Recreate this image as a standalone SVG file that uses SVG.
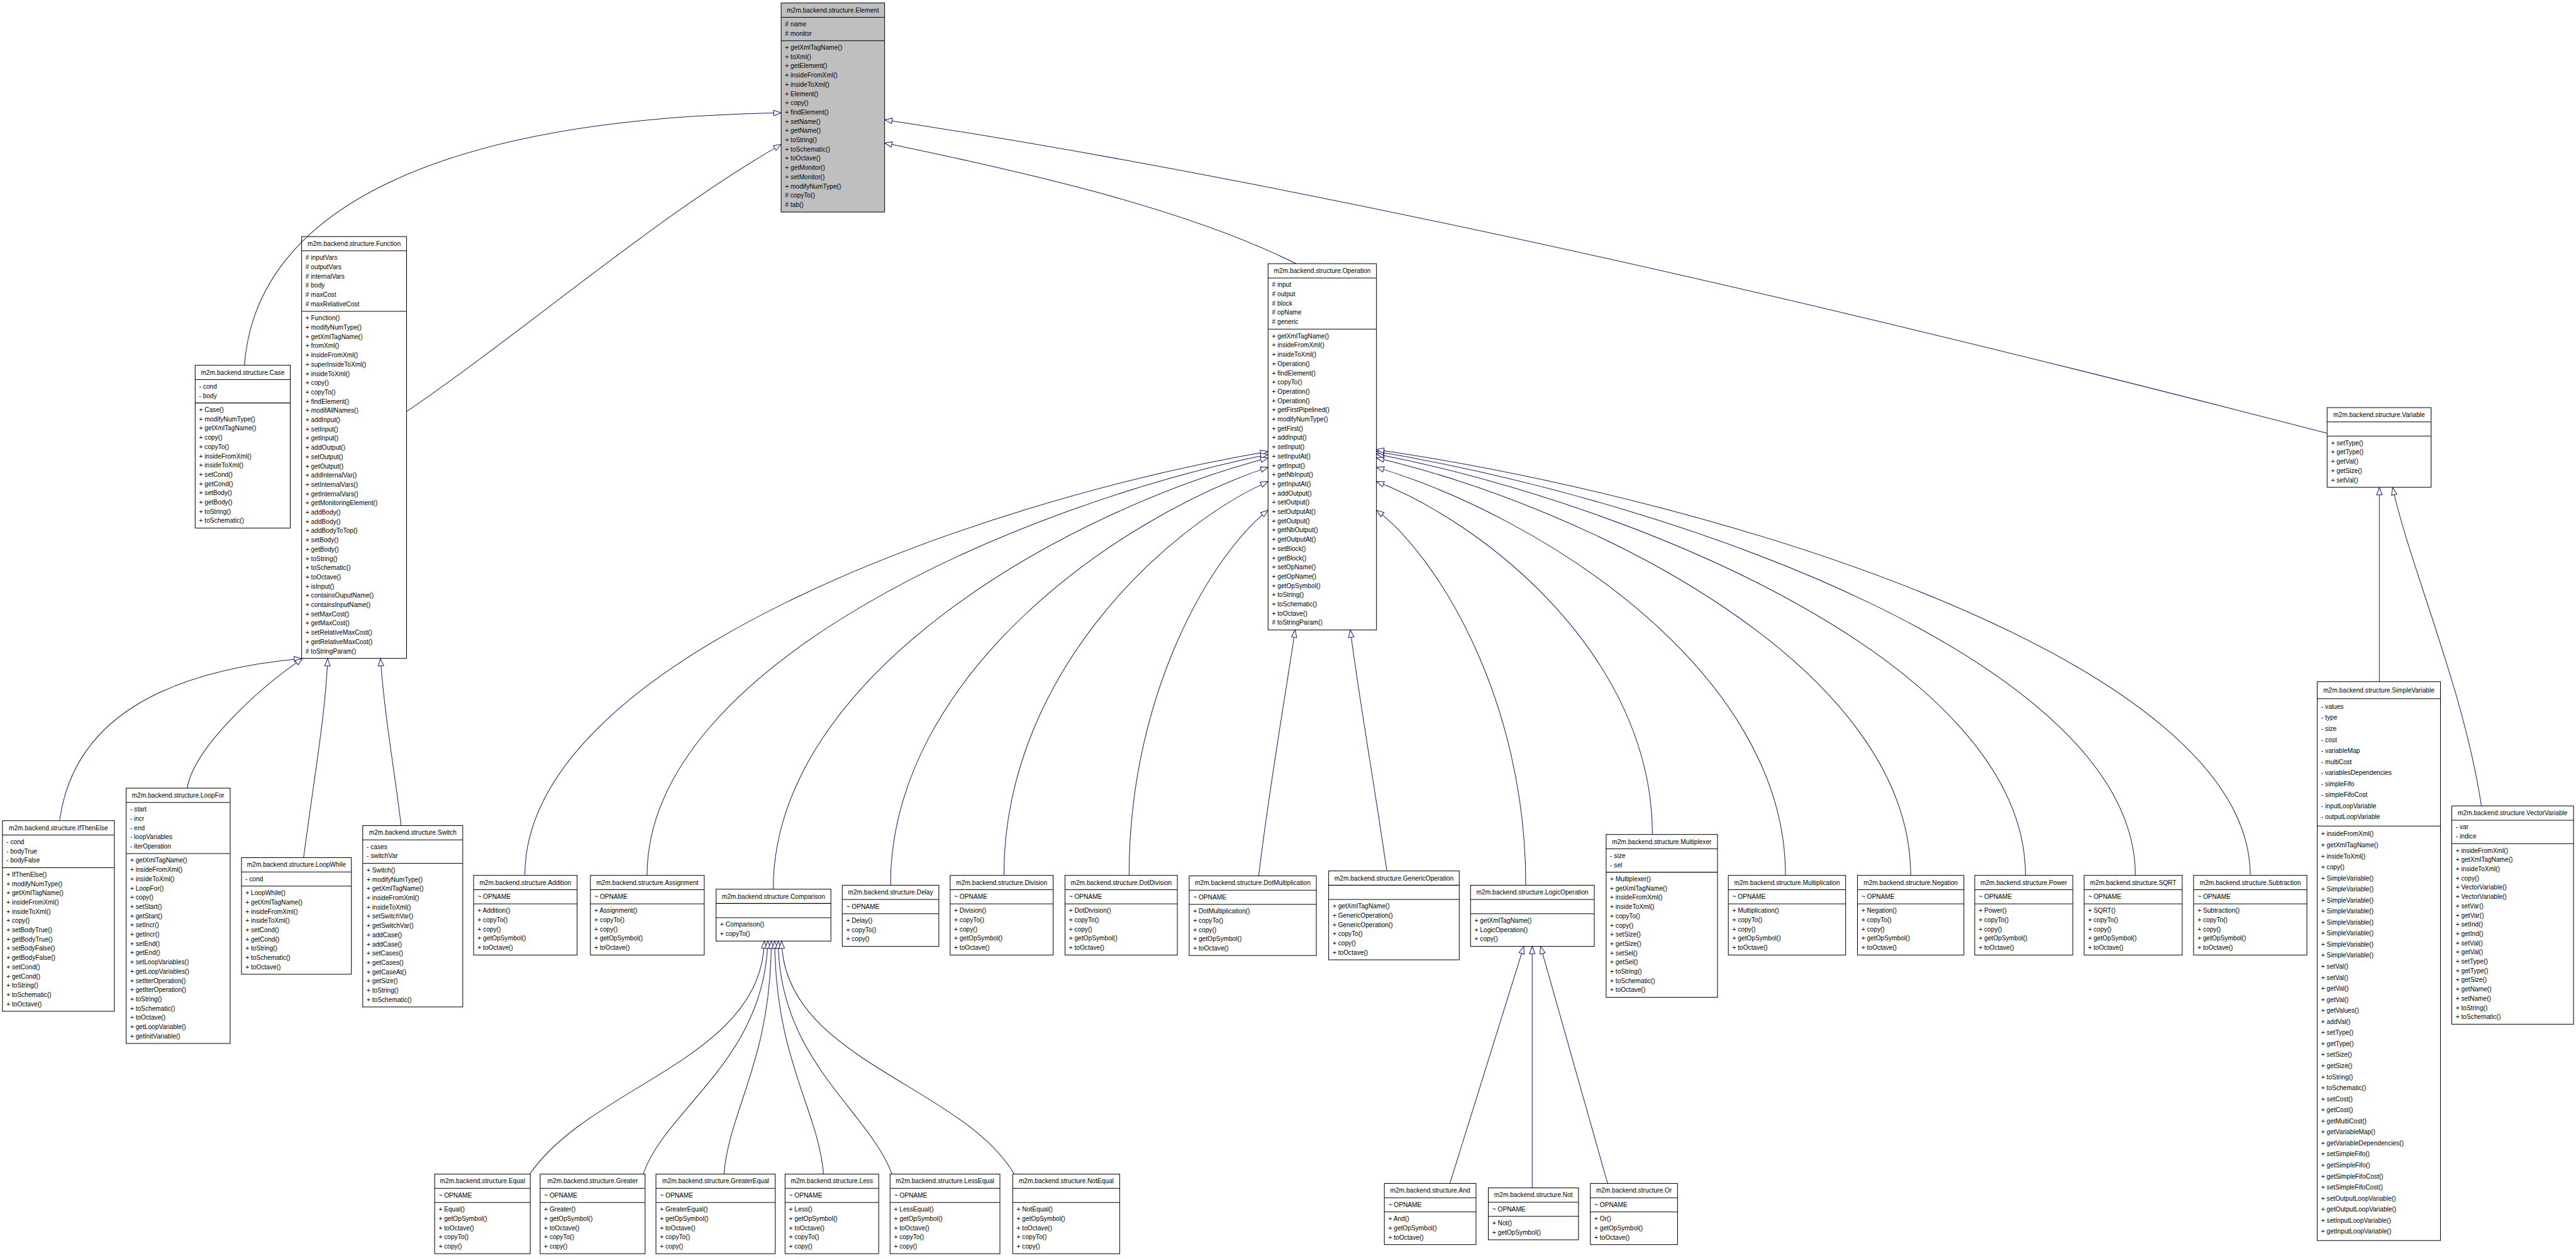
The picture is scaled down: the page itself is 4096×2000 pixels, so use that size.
<svg xmlns="http://www.w3.org/2000/svg" width="4096" height="2000" viewBox="0 0 4096 2000">
<style>
.box{fill:#fff;stroke:#000;stroke-width:1.3}
.gray{fill:#bfbfbf}
.sep{fill:none;stroke:#000;stroke-width:1.3}
text{font-family:"Liberation Sans",Arial,Helvetica,sans-serif;font-size:13px;fill:#000}
.t{text-anchor:middle}
.edge path{fill:none;stroke:#191970;stroke-width:1.3;marker-end:url(#inh)}
</style>
<defs>
<marker id="inh" viewBox="-17 -8 19 16" refX="0" refY="0" markerWidth="19" markerHeight="16" markerUnits="userSpaceOnUse" orient="auto">
<path d="M0,0 L-15,-5.5 L-15,5.5 Z" fill="#fff" stroke="#191970" stroke-width="1.3"/>
</marker>
</defs>
<rect width="4096" height="2000" fill="#fff"/>
<g transform="scale(0.78362)">

<g id="Element"><rect class="box gray" x="1585" y="6" width="210" height="424.2"/><path class="sep" d="M1585,35h210M1585,82.52h210"/><text class="t" x="1690" y="25">m2m.backend.structure.Element</text>
<text x="1593" y="53.4"><tspan># name</tspan><tspan x="1593" dy="18.76"># monitor</tspan></text>
<text x="1593" y="100.92"><tspan>+ getXmlTagName()</tspan><tspan x="1593" dy="18.76">+ toXml()</tspan><tspan x="1593" dy="18.76">+ getElement()</tspan><tspan x="1593" dy="18.76">+ insideFromXml()</tspan><tspan x="1593" dy="18.76">+ insideToXml()</tspan><tspan x="1593" dy="18.76">+ Element()</tspan><tspan x="1593" dy="18.76">+ copy()</tspan><tspan x="1593" dy="18.76">+ findElement()</tspan><tspan x="1593" dy="18.76">+ setName()</tspan><tspan x="1593" dy="18.76">+ getName()</tspan><tspan x="1593" dy="18.76">+ toString()</tspan><tspan x="1593" dy="18.76">+ toSchematic()</tspan><tspan x="1593" dy="18.76">+ toOctave()</tspan><tspan x="1593" dy="18.76">+ getMonitor()</tspan><tspan x="1593" dy="18.76">+ setMonitor()</tspan><tspan x="1593" dy="18.76">+ modifyNumType()</tspan><tspan x="1593" dy="18.76"># copyTo()</tspan><tspan x="1593" dy="18.76"># tab()</tspan></text></g>

<g id="Function"><rect class="box" x="612" y="480" width="213" height="855.68"/><path class="sep" d="M612,509h213M612,631.56h213"/><text class="t" x="718.5" y="499">m2m.backend.structure.Function</text>
<text x="620" y="527.4"><tspan># inputVars</tspan><tspan x="620" dy="18.76"># outputVars</tspan><tspan x="620" dy="18.76"># internalVars</tspan><tspan x="620" dy="18.76"># body</tspan><tspan x="620" dy="18.76"># maxCost</tspan><tspan x="620" dy="18.76"># maxRelativeCost</tspan></text>
<text x="620" y="649.96"><tspan>+ Function()</tspan><tspan x="620" dy="18.76">+ modifyNumType()</tspan><tspan x="620" dy="18.76">+ getXmlTagName()</tspan><tspan x="620" dy="18.76">+ fromXml()</tspan><tspan x="620" dy="18.76">+ insideFromXml()</tspan><tspan x="620" dy="18.76">+ superInsideToXml()</tspan><tspan x="620" dy="18.76">+ insideToXml()</tspan><tspan x="620" dy="18.76">+ copy()</tspan><tspan x="620" dy="18.76">+ copyTo()</tspan><tspan x="620" dy="18.76">+ findElement()</tspan><tspan x="620" dy="18.76">+ modifAllNames()</tspan><tspan x="620" dy="18.76">+ addInput()</tspan><tspan x="620" dy="18.76">+ setInput()</tspan><tspan x="620" dy="18.76">+ getInput()</tspan><tspan x="620" dy="18.76">+ addOutput()</tspan><tspan x="620" dy="18.76">+ setOutput()</tspan><tspan x="620" dy="18.76">+ getOutput()</tspan><tspan x="620" dy="18.76">+ addInternalVar()</tspan><tspan x="620" dy="18.76">+ setInternalVars()</tspan><tspan x="620" dy="18.76">+ getInternalVars()</tspan><tspan x="620" dy="18.76">+ getMonitoringElement()</tspan><tspan x="620" dy="18.76">+ addBody()</tspan><tspan x="620" dy="18.76">+ addBody()</tspan><tspan x="620" dy="18.76">+ addBodyToTop()</tspan><tspan x="620" dy="18.76">+ setBody()</tspan><tspan x="620" dy="18.76">+ getBody()</tspan><tspan x="620" dy="18.76">+ toString()</tspan><tspan x="620" dy="18.76">+ toSchematic()</tspan><tspan x="620" dy="18.76">+ toOctave()</tspan><tspan x="620" dy="18.76">+ isInput()</tspan><tspan x="620" dy="18.76">+ containsOuputName()</tspan><tspan x="620" dy="18.76">+ containsInputName()</tspan><tspan x="620" dy="18.76">+ setMaxCost()</tspan><tspan x="620" dy="18.76">+ getMaxCost()</tspan><tspan x="620" dy="18.76">+ setRelativeMaxCost()</tspan><tspan x="620" dy="18.76">+ getRelativeMaxCost()</tspan><tspan x="620" dy="18.76"># toStringParam()</tspan></text></g>

<g id="Case"><rect class="box" x="396" y="741" width="193" height="330.4"/><path class="sep" d="M396,770h193M396,817.52h193"/><text class="t" x="492.5" y="760">m2m.backend.structure.Case</text>
<text x="404" y="788.4"><tspan>- cond</tspan><tspan x="404" dy="18.76">- body</tspan></text>
<text x="404" y="835.92"><tspan>+ Case()</tspan><tspan x="404" dy="18.76">+ modifyNumType()</tspan><tspan x="404" dy="18.76">+ getXmlTagName()</tspan><tspan x="404" dy="18.76">+ copy()</tspan><tspan x="404" dy="18.76">+ copyTo()</tspan><tspan x="404" dy="18.76">+ insideFromXml()</tspan><tspan x="404" dy="18.76">+ insideToXml()</tspan><tspan x="404" dy="18.76">+ setCond()</tspan><tspan x="404" dy="18.76">+ getCond()</tspan><tspan x="404" dy="18.76">+ setBody()</tspan><tspan x="404" dy="18.76">+ getBody()</tspan><tspan x="404" dy="18.76">+ toString()</tspan><tspan x="404" dy="18.76">+ toSchematic()</tspan></text></g>

<g id="Operation"><rect class="box" x="2573" y="535" width="220" height="743.12"/><path class="sep" d="M2573,564h220M2573,667.8h220"/><text class="t" x="2683" y="554">m2m.backend.structure.Operation</text>
<text x="2581" y="582.4"><tspan># input</tspan><tspan x="2581" dy="18.76"># output</tspan><tspan x="2581" dy="18.76"># block</tspan><tspan x="2581" dy="18.76"># opName</tspan><tspan x="2581" dy="18.76"># generic</tspan></text>
<text x="2581" y="686.2"><tspan>+ getXmlTagName()</tspan><tspan x="2581" dy="18.76">+ insideFromXml()</tspan><tspan x="2581" dy="18.76">+ insideToXml()</tspan><tspan x="2581" dy="18.76">+ Operation()</tspan><tspan x="2581" dy="18.76">+ findElement()</tspan><tspan x="2581" dy="18.76">+ copyTo()</tspan><tspan x="2581" dy="18.76">+ Operation()</tspan><tspan x="2581" dy="18.76">+ Operation()</tspan><tspan x="2581" dy="18.76">+ getFirstPipelined()</tspan><tspan x="2581" dy="18.76">+ modifyNumType()</tspan><tspan x="2581" dy="18.76">+ getFirst()</tspan><tspan x="2581" dy="18.76">+ addInput()</tspan><tspan x="2581" dy="18.76">+ setInput()</tspan><tspan x="2581" dy="18.76">+ setInputAt()</tspan><tspan x="2581" dy="18.76">+ getInput()</tspan><tspan x="2581" dy="18.76">+ getNbInput()</tspan><tspan x="2581" dy="18.76">+ getInputAt()</tspan><tspan x="2581" dy="18.76">+ addOutput()</tspan><tspan x="2581" dy="18.76">+ setOutput()</tspan><tspan x="2581" dy="18.76">+ setOutputAt()</tspan><tspan x="2581" dy="18.76">+ getOutput()</tspan><tspan x="2581" dy="18.76">+ getNbOutput()</tspan><tspan x="2581" dy="18.76">+ getOutputAt()</tspan><tspan x="2581" dy="18.76">+ setBlock()</tspan><tspan x="2581" dy="18.76">+ getBlock()</tspan><tspan x="2581" dy="18.76">+ setOpName()</tspan><tspan x="2581" dy="18.76">+ getOpName()</tspan><tspan x="2581" dy="18.76">+ getOpSymbol()</tspan><tspan x="2581" dy="18.76">+ toString()</tspan><tspan x="2581" dy="18.76">+ toSchematic()</tspan><tspan x="2581" dy="18.76">+ toOctave()</tspan><tspan x="2581" dy="18.76"># toStringParam()</tspan></text></g>

<g id="Variable"><rect class="box" x="4722" y="827" width="211" height="161.56"/><path class="sep" d="M4722,856h211M4722,884.76h211"/><text class="t" x="4827.5" y="846">m2m.backend.structure.Variable</text>
<text x="4730" y="903.16"><tspan>+ setType()</tspan><tspan x="4730" dy="18.76">+ getType()</tspan><tspan x="4730" dy="18.76">+ getVal()</tspan><tspan x="4730" dy="18.76">+ getSize()</tspan><tspan x="4730" dy="18.76">+ setVal()</tspan></text></g>

<g id="SimpleVariable"><rect class="box" x="4702" y="1383" width="250" height="1133.8"/><path class="sep" d="M4702,1417.6h250M4702,1676h250"/><text class="t" x="4827" y="1405">m2m.backend.structure.SimpleVariable</text>
<text x="4710" y="1438.1"><tspan>- values</tspan><tspan x="4710" dy="22.4">- type</tspan><tspan x="4710" dy="22.4">- size</tspan><tspan x="4710" dy="22.4">- cost</tspan><tspan x="4710" dy="22.4">- variableMap</tspan><tspan x="4710" dy="22.4">- multiCost</tspan><tspan x="4710" dy="22.4">- variablesDependencies</tspan><tspan x="4710" dy="22.4">- simpleFifo</tspan><tspan x="4710" dy="22.4">- simpleFifoCost</tspan><tspan x="4710" dy="22.4">- inputLoopVariable</tspan><tspan x="4710" dy="22.4">- outputLoopVariable</tspan></text>
<text x="4710" y="1696.5"><tspan>+ insideFromXml()</tspan><tspan x="4710" dy="22.4">+ getXmlTagName()</tspan><tspan x="4710" dy="22.4">+ insideToXml()</tspan><tspan x="4710" dy="22.4">+ copy()</tspan><tspan x="4710" dy="22.4">+ SimpleVariable()</tspan><tspan x="4710" dy="22.4">+ SimpleVariable()</tspan><tspan x="4710" dy="22.4">+ SimpleVariable()</tspan><tspan x="4710" dy="22.4">+ SimpleVariable()</tspan><tspan x="4710" dy="22.4">+ SimpleVariable()</tspan><tspan x="4710" dy="22.4">+ SimpleVariable()</tspan><tspan x="4710" dy="22.4">+ SimpleVariable()</tspan><tspan x="4710" dy="22.4">+ SimpleVariable()</tspan><tspan x="4710" dy="22.4">+ setVal()</tspan><tspan x="4710" dy="22.4">+ setVal()</tspan><tspan x="4710" dy="22.4">+ getVal()</tspan><tspan x="4710" dy="22.4">+ getVal()</tspan><tspan x="4710" dy="22.4">+ getValues()</tspan><tspan x="4710" dy="22.4">+ addVal()</tspan><tspan x="4710" dy="22.4">+ setType()</tspan><tspan x="4710" dy="22.4">+ getType()</tspan><tspan x="4710" dy="22.4">+ setSize()</tspan><tspan x="4710" dy="22.4">+ getSize()</tspan><tspan x="4710" dy="22.4">+ toString()</tspan><tspan x="4710" dy="22.4">+ toSchematic()</tspan><tspan x="4710" dy="22.4">+ setCost()</tspan><tspan x="4710" dy="22.4">+ getCost()</tspan><tspan x="4710" dy="22.4">+ getMultiCost()</tspan><tspan x="4710" dy="22.4">+ getVariableMap()</tspan><tspan x="4710" dy="22.4">+ getVariableDependencies()</tspan><tspan x="4710" dy="22.4">+ setSimpleFifo()</tspan><tspan x="4710" dy="22.4">+ getSimpleFifo()</tspan><tspan x="4710" dy="22.4">+ getSimpleFifoCost()</tspan><tspan x="4710" dy="22.4">+ setSimpleFifoCost()</tspan><tspan x="4710" dy="22.4">+ setOutputLoopVariable()</tspan><tspan x="4710" dy="22.4">+ getOutputLoopVariable()</tspan><tspan x="4710" dy="22.4">+ setInputLoopVariable()</tspan><tspan x="4710" dy="22.4">+ getInputLoopVariable()</tspan></text></g>

<g id="VectorVariable"><rect class="box" x="4975" y="1635" width="247" height="442.96"/><path class="sep" d="M4975,1664h247M4975,1711.52h247"/><text class="t" x="5098.5" y="1654">m2m.backend.structure.VectorVariable</text>
<text x="4983" y="1682.4"><tspan>- var</tspan><tspan x="4983" dy="18.76">- indice</tspan></text>
<text x="4983" y="1729.92"><tspan>+ insideFromXml()</tspan><tspan x="4983" dy="18.76">+ getXmlTagName()</tspan><tspan x="4983" dy="18.76">+ insideToXml()</tspan><tspan x="4983" dy="18.76">+ copy()</tspan><tspan x="4983" dy="18.76">+ VectorVariable()</tspan><tspan x="4983" dy="18.76">+ VectorVariable()</tspan><tspan x="4983" dy="18.76">+ setVar()</tspan><tspan x="4983" dy="18.76">+ getVar()</tspan><tspan x="4983" dy="18.76">+ setInd()</tspan><tspan x="4983" dy="18.76">+ getInd()</tspan><tspan x="4983" dy="18.76">+ setVal()</tspan><tspan x="4983" dy="18.76">+ getVal()</tspan><tspan x="4983" dy="18.76">+ setType()</tspan><tspan x="4983" dy="18.76">+ getType()</tspan><tspan x="4983" dy="18.76">+ getSize()</tspan><tspan x="4983" dy="18.76">+ getName()</tspan><tspan x="4983" dy="18.76">+ setName()</tspan><tspan x="4983" dy="18.76">+ toString()</tspan><tspan x="4983" dy="18.76">+ toSchematic()</tspan></text></g>

<g id="IfThenElse"><rect class="box" x="5" y="1665" width="227" height="386.68"/><path class="sep" d="M5,1694h227M5,1760.28h227"/><text class="t" x="118.5" y="1684">m2m.backend.structure.IfThenElse</text>
<text x="13" y="1712.4"><tspan>- cond</tspan><tspan x="13" dy="18.76">- bodyTrue</tspan><tspan x="13" dy="18.76">- bodyFalse</tspan></text>
<text x="13" y="1778.68"><tspan>+ IfThenElse()</tspan><tspan x="13" dy="18.76">+ modifyNumType()</tspan><tspan x="13" dy="18.76">+ getXmlTagName()</tspan><tspan x="13" dy="18.76">+ insideFromXml()</tspan><tspan x="13" dy="18.76">+ insideToXml()</tspan><tspan x="13" dy="18.76">+ copy()</tspan><tspan x="13" dy="18.76">+ setBodyTrue()</tspan><tspan x="13" dy="18.76">+ getBodyTrue()</tspan><tspan x="13" dy="18.76">+ setBodyFalse()</tspan><tspan x="13" dy="18.76">+ getBodyFalse()</tspan><tspan x="13" dy="18.76">+ setCond()</tspan><tspan x="13" dy="18.76">+ getCond()</tspan><tspan x="13" dy="18.76">+ toString()</tspan><tspan x="13" dy="18.76">+ toSchematic()</tspan><tspan x="13" dy="18.76">+ toOctave()</tspan></text></g>

<g id="LoopFor"><rect class="box" x="256" y="1599" width="211" height="518"/><path class="sep" d="M256,1628h211M256,1731.8h211"/><text class="t" x="361.5" y="1618">m2m.backend.structure.LoopFor</text>
<text x="264" y="1646.4"><tspan>- start</tspan><tspan x="264" dy="18.76">- incr</tspan><tspan x="264" dy="18.76">- end</tspan><tspan x="264" dy="18.76">- loopVariables</tspan><tspan x="264" dy="18.76">- iterOperation</tspan></text>
<text x="264" y="1750.2"><tspan>+ getXmlTagName()</tspan><tspan x="264" dy="18.76">+ insideFromXml()</tspan><tspan x="264" dy="18.76">+ insideToXml()</tspan><tspan x="264" dy="18.76">+ LoopFor()</tspan><tspan x="264" dy="18.76">+ copy()</tspan><tspan x="264" dy="18.76">+ setStart()</tspan><tspan x="264" dy="18.76">+ getStart()</tspan><tspan x="264" dy="18.76">+ setIncr()</tspan><tspan x="264" dy="18.76">+ getIncr()</tspan><tspan x="264" dy="18.76">+ setEnd()</tspan><tspan x="264" dy="18.76">+ getEnd()</tspan><tspan x="264" dy="18.76">+ setLoopVariables()</tspan><tspan x="264" dy="18.76">+ getLoopVariables()</tspan><tspan x="264" dy="18.76">+ setIterOperation()</tspan><tspan x="264" dy="18.76">+ getIterOperation()</tspan><tspan x="264" dy="18.76">+ toString()</tspan><tspan x="264" dy="18.76">+ toSchematic()</tspan><tspan x="264" dy="18.76">+ toOctave()</tspan><tspan x="264" dy="18.76">+ getLoopVariable()</tspan><tspan x="264" dy="18.76">+ getInitVariable()</tspan></text></g>

<g id="LoopWhile"><rect class="box" x="490" y="1740" width="223" height="236.6"/><path class="sep" d="M490,1769h223M490,1797.76h223"/><text class="t" x="601.5" y="1759">m2m.backend.structure.LoopWhile</text>
<text x="498" y="1787.4">- cond</text>
<text x="498" y="1816.16"><tspan>+ LoopWhile()</tspan><tspan x="498" dy="18.76">+ getXmlTagName()</tspan><tspan x="498" dy="18.76">+ insideFromXml()</tspan><tspan x="498" dy="18.76">+ insideToXml()</tspan><tspan x="498" dy="18.76">+ setCond()</tspan><tspan x="498" dy="18.76">+ getCond()</tspan><tspan x="498" dy="18.76">+ toString()</tspan><tspan x="498" dy="18.76">+ toSchematic()</tspan><tspan x="498" dy="18.76">+ toOctave()</tspan></text></g>

<g id="Switch"><rect class="box" x="736" y="1675" width="203" height="367.92"/><path class="sep" d="M736,1704h203M736,1751.52h203"/><text class="t" x="837.5" y="1694">m2m.backend.structure.Switch</text>
<text x="744" y="1722.4"><tspan>- cases</tspan><tspan x="744" dy="18.76">- switchVar</tspan></text>
<text x="744" y="1769.92"><tspan>+ Switch()</tspan><tspan x="744" dy="18.76">+ modifyNumType()</tspan><tspan x="744" dy="18.76">+ getXmlTagName()</tspan><tspan x="744" dy="18.76">+ insideFromXml()</tspan><tspan x="744" dy="18.76">+ insideToXml()</tspan><tspan x="744" dy="18.76">+ setSwitchVar()</tspan><tspan x="744" dy="18.76">+ getSwitchVar()</tspan><tspan x="744" dy="18.76">+ addCase()</tspan><tspan x="744" dy="18.76">+ addCase()</tspan><tspan x="744" dy="18.76">+ setCases()</tspan><tspan x="744" dy="18.76">+ getCases()</tspan><tspan x="744" dy="18.76">+ getCaseAt()</tspan><tspan x="744" dy="18.76">+ getSize()</tspan><tspan x="744" dy="18.76">+ toString()</tspan><tspan x="744" dy="18.76">+ toSchematic()</tspan></text></g>

<g id="Addition"><rect class="box" x="961" y="1776" width="210" height="161.56"/><path class="sep" d="M961,1805h210M961,1833.76h210"/><text class="t" x="1066" y="1795">m2m.backend.structure.Addition</text>
<text x="969" y="1823.4">~ OPNAME</text>
<text x="969" y="1852.16"><tspan>+ Addition()</tspan><tspan x="969" dy="18.76">+ copyTo()</tspan><tspan x="969" dy="18.76">+ copy()</tspan><tspan x="969" dy="18.76">+ getOpSymbol()</tspan><tspan x="969" dy="18.76">+ toOctave()</tspan></text></g>

<g id="Assignment"><rect class="box" x="1198" y="1776" width="231" height="161.56"/><path class="sep" d="M1198,1805h231M1198,1833.76h231"/><text class="t" x="1313.5" y="1795">m2m.backend.structure.Assignment</text>
<text x="1206" y="1823.4">~ OPNAME</text>
<text x="1206" y="1852.16"><tspan>+ Assignment()</tspan><tspan x="1206" dy="18.76">+ copyTo()</tspan><tspan x="1206" dy="18.76">+ copy()</tspan><tspan x="1206" dy="18.76">+ getOpSymbol()</tspan><tspan x="1206" dy="18.76">+ toOctave()</tspan></text></g>

<g id="Comparison"><rect class="box" x="1453" y="1804" width="233" height="105.28"/><path class="sep" d="M1453,1833h233M1453,1861.76h233"/><text class="t" x="1569.5" y="1823">m2m.backend.structure.Comparison</text>
<text x="1461" y="1880.16"><tspan>+ Comparison()</tspan><tspan x="1461" dy="18.76">+ copyTo()</tspan></text></g>

<g id="Delay"><rect class="box" x="1709" y="1796" width="196" height="124.04"/><path class="sep" d="M1709,1825h196M1709,1853.76h196"/><text class="t" x="1807" y="1815">m2m.backend.structure.Delay</text>
<text x="1717" y="1843.4">~ OPNAME</text>
<text x="1717" y="1872.16"><tspan>+ Delay()</tspan><tspan x="1717" dy="18.76">+ copyTo()</tspan><tspan x="1717" dy="18.76">+ copy()</tspan></text></g>

<g id="Division"><rect class="box" x="1928" y="1776" width="209" height="161.56"/><path class="sep" d="M1928,1805h209M1928,1833.76h209"/><text class="t" x="2032.5" y="1795">m2m.backend.structure.Division</text>
<text x="1936" y="1823.4">~ OPNAME</text>
<text x="1936" y="1852.16"><tspan>+ Division()</tspan><tspan x="1936" dy="18.76">+ copyTo()</tspan><tspan x="1936" dy="18.76">+ copy()</tspan><tspan x="1936" dy="18.76">+ getOpSymbol()</tspan><tspan x="1936" dy="18.76">+ toOctave()</tspan></text></g>

<g id="DotDivision"><rect class="box" x="2161" y="1776" width="228" height="161.56"/><path class="sep" d="M2161,1805h228M2161,1833.76h228"/><text class="t" x="2275" y="1795">m2m.backend.structure.DotDivision</text>
<text x="2169" y="1823.4">~ OPNAME</text>
<text x="2169" y="1852.16"><tspan>+ DotDivision()</tspan><tspan x="2169" dy="18.76">+ copyTo()</tspan><tspan x="2169" dy="18.76">+ copy()</tspan><tspan x="2169" dy="18.76">+ getOpSymbol()</tspan><tspan x="2169" dy="18.76">+ toOctave()</tspan></text></g>

<g id="DotMultiplication"><rect class="box" x="2413" y="1777" width="258" height="161.56"/><path class="sep" d="M2413,1806h258M2413,1834.76h258"/><text class="t" x="2542" y="1796">m2m.backend.structure.DotMultiplication</text>
<text x="2421" y="1824.4">~ OPNAME</text>
<text x="2421" y="1853.16"><tspan>+ DotMultiplication()</tspan><tspan x="2421" dy="18.76">+ copyTo()</tspan><tspan x="2421" dy="18.76">+ copy()</tspan><tspan x="2421" dy="18.76">+ getOpSymbol()</tspan><tspan x="2421" dy="18.76">+ toOctave()</tspan></text></g>

<g id="GenericOperation"><rect class="box" x="2696" y="1767" width="265" height="180.32"/><path class="sep" d="M2696,1796h265M2696,1824.76h265"/><text class="t" x="2828.5" y="1786">m2m.backend.structure.GenericOperation</text>
<text x="2704" y="1843.16"><tspan>+ getXmlTagName()</tspan><tspan x="2704" dy="18.76">+ GenericOperation()</tspan><tspan x="2704" dy="18.76">+ GenericOperation()</tspan><tspan x="2704" dy="18.76">+ copyTo()</tspan><tspan x="2704" dy="18.76">+ copy()</tspan><tspan x="2704" dy="18.76">+ toOctave()</tspan></text></g>

<g id="LogicOperation"><rect class="box" x="2984" y="1796" width="251" height="124.04"/><path class="sep" d="M2984,1825h251M2984,1853.76h251"/><text class="t" x="3109.5" y="1815">m2m.backend.structure.LogicOperation</text>
<text x="2992" y="1872.16"><tspan>+ getXmlTagName()</tspan><tspan x="2992" dy="18.76">+ LogicOperation()</tspan><tspan x="2992" dy="18.76">+ copy()</tspan></text></g>

<g id="Multiplexer"><rect class="box" x="3259" y="1693" width="226" height="330.4"/><path class="sep" d="M3259,1722h226M3259,1769.52h226"/><text class="t" x="3372" y="1712">m2m.backend.structure.Multiplexer</text>
<text x="3267" y="1740.4"><tspan>- size</tspan><tspan x="3267" dy="18.76">- sel</tspan></text>
<text x="3267" y="1787.92"><tspan>+ Multiplexer()</tspan><tspan x="3267" dy="18.76">+ getXmlTagName()</tspan><tspan x="3267" dy="18.76">+ insideFromXml()</tspan><tspan x="3267" dy="18.76">+ insideToXml()</tspan><tspan x="3267" dy="18.76">+ copyTo()</tspan><tspan x="3267" dy="18.76">+ copy()</tspan><tspan x="3267" dy="18.76">+ setSize()</tspan><tspan x="3267" dy="18.76">+ getSize()</tspan><tspan x="3267" dy="18.76">+ setSel()</tspan><tspan x="3267" dy="18.76">+ getSel()</tspan><tspan x="3267" dy="18.76">+ toString()</tspan><tspan x="3267" dy="18.76">+ toSchematic()</tspan><tspan x="3267" dy="18.76">+ toOctave()</tspan></text></g>

<g id="Multiplication"><rect class="box" x="3507" y="1776" width="238" height="161.56"/><path class="sep" d="M3507,1805h238M3507,1833.76h238"/><text class="t" x="3626" y="1795">m2m.backend.structure.Multiplication</text>
<text x="3515" y="1823.4">~ OPNAME</text>
<text x="3515" y="1852.16"><tspan>+ Multiplication()</tspan><tspan x="3515" dy="18.76">+ copyTo()</tspan><tspan x="3515" dy="18.76">+ copy()</tspan><tspan x="3515" dy="18.76">+ getOpSymbol()</tspan><tspan x="3515" dy="18.76">+ toOctave()</tspan></text></g>

<g id="Negation"><rect class="box" x="3769" y="1776" width="216" height="161.56"/><path class="sep" d="M3769,1805h216M3769,1833.76h216"/><text class="t" x="3877" y="1795">m2m.backend.structure.Negation</text>
<text x="3777" y="1823.4">~ OPNAME</text>
<text x="3777" y="1852.16"><tspan>+ Negation()</tspan><tspan x="3777" dy="18.76">+ copyTo()</tspan><tspan x="3777" dy="18.76">+ copy()</tspan><tspan x="3777" dy="18.76">+ getOpSymbol()</tspan><tspan x="3777" dy="18.76">+ toOctave()</tspan></text></g>

<g id="Power"><rect class="box" x="4007" y="1776" width="199" height="161.56"/><path class="sep" d="M4007,1805h199M4007,1833.76h199"/><text class="t" x="4106.5" y="1795">m2m.backend.structure.Power</text>
<text x="4015" y="1823.4">~ OPNAME</text>
<text x="4015" y="1852.16"><tspan>+ Power()</tspan><tspan x="4015" dy="18.76">+ copyTo()</tspan><tspan x="4015" dy="18.76">+ copy()</tspan><tspan x="4015" dy="18.76">+ getOpSymbol()</tspan><tspan x="4015" dy="18.76">+ toOctave()</tspan></text></g>

<g id="SQRT"><rect class="box" x="4229" y="1776" width="199" height="161.56"/><path class="sep" d="M4229,1805h199M4229,1833.76h199"/><text class="t" x="4328.5" y="1795">m2m.backend.structure.SQRT</text>
<text x="4237" y="1823.4">~ OPNAME</text>
<text x="4237" y="1852.16"><tspan>+ SQRT()</tspan><tspan x="4237" dy="18.76">+ copyTo()</tspan><tspan x="4237" dy="18.76">+ copy()</tspan><tspan x="4237" dy="18.76">+ getOpSymbol()</tspan><tspan x="4237" dy="18.76">+ toOctave()</tspan></text></g>

<g id="Subtraction"><rect class="box" x="4451" y="1776" width="230" height="161.56"/><path class="sep" d="M4451,1805h230M4451,1833.76h230"/><text class="t" x="4566" y="1795">m2m.backend.structure.Subtraction</text>
<text x="4459" y="1823.4">~ OPNAME</text>
<text x="4459" y="1852.16"><tspan>+ Subtraction()</tspan><tspan x="4459" dy="18.76">+ copyTo()</tspan><tspan x="4459" dy="18.76">+ copy()</tspan><tspan x="4459" dy="18.76">+ getOpSymbol()</tspan><tspan x="4459" dy="18.76">+ toOctave()</tspan></text></g>

<g id="Equal"><rect class="box" x="882" y="2382" width="194" height="161.56"/><path class="sep" d="M882,2411h194M882,2439.76h194"/><text class="t" x="979" y="2401">m2m.backend.structure.Equal</text>
<text x="890" y="2429.4">~ OPNAME</text>
<text x="890" y="2458.16"><tspan>+ Equal()</tspan><tspan x="890" dy="18.76">+ getOpSymbol()</tspan><tspan x="890" dy="18.76">+ toOctave()</tspan><tspan x="890" dy="18.76">+ copyTo()</tspan><tspan x="890" dy="18.76">+ copy()</tspan></text></g>

<g id="Greater"><rect class="box" x="1096" y="2382" width="213" height="161.56"/><path class="sep" d="M1096,2411h213M1096,2439.76h213"/><text class="t" x="1202.5" y="2401">m2m.backend.structure.Greater</text>
<text x="1104" y="2429.4">~ OPNAME</text>
<text x="1104" y="2458.16"><tspan>+ Greater()</tspan><tspan x="1104" dy="18.76">+ getOpSymbol()</tspan><tspan x="1104" dy="18.76">+ toOctave()</tspan><tspan x="1104" dy="18.76">+ copyTo()</tspan><tspan x="1104" dy="18.76">+ copy()</tspan></text></g>

<g id="GreaterEqual"><rect class="box" x="1331" y="2382" width="242" height="161.56"/><path class="sep" d="M1331,2411h242M1331,2439.76h242"/><text class="t" x="1452" y="2401">m2m.backend.structure.GreaterEqual</text>
<text x="1339" y="2429.4">~ OPNAME</text>
<text x="1339" y="2458.16"><tspan>+ GreaterEqual()</tspan><tspan x="1339" dy="18.76">+ getOpSymbol()</tspan><tspan x="1339" dy="18.76">+ toOctave()</tspan><tspan x="1339" dy="18.76">+ copyTo()</tspan><tspan x="1339" dy="18.76">+ copy()</tspan></text></g>

<g id="Less"><rect class="box" x="1593" y="2382" width="190" height="161.56"/><path class="sep" d="M1593,2411h190M1593,2439.76h190"/><text class="t" x="1688" y="2401">m2m.backend.structure.Less</text>
<text x="1601" y="2429.4">~ OPNAME</text>
<text x="1601" y="2458.16"><tspan>+ Less()</tspan><tspan x="1601" dy="18.76">+ getOpSymbol()</tspan><tspan x="1601" dy="18.76">+ toOctave()</tspan><tspan x="1601" dy="18.76">+ copyTo()</tspan><tspan x="1601" dy="18.76">+ copy()</tspan></text></g>

<g id="LessEqual"><rect class="box" x="1806" y="2382" width="223" height="161.56"/><path class="sep" d="M1806,2411h223M1806,2439.76h223"/><text class="t" x="1917.5" y="2401">m2m.backend.structure.LessEqual</text>
<text x="1814" y="2429.4">~ OPNAME</text>
<text x="1814" y="2458.16"><tspan>+ LessEqual()</tspan><tspan x="1814" dy="18.76">+ getOpSymbol()</tspan><tspan x="1814" dy="18.76">+ toOctave()</tspan><tspan x="1814" dy="18.76">+ copyTo()</tspan><tspan x="1814" dy="18.76">+ copy()</tspan></text></g>

<g id="NotEqual"><rect class="box" x="2055" y="2382" width="217" height="161.56"/><path class="sep" d="M2055,2411h217M2055,2439.76h217"/><text class="t" x="2163.5" y="2401">m2m.backend.structure.NotEqual</text>
<text x="2063" y="2458.16"><tspan>+ NotEqual()</tspan><tspan x="2063" dy="18.76">+ getOpSymbol()</tspan><tspan x="2063" dy="18.76">+ toOctave()</tspan><tspan x="2063" dy="18.76">+ copyTo()</tspan><tspan x="2063" dy="18.76">+ copy()</tspan></text></g>

<g id="And"><rect class="box" x="2809" y="2401" width="186" height="124.04"/><path class="sep" d="M2809,2430h186M2809,2458.76h186"/><text class="t" x="2902" y="2420">m2m.backend.structure.And</text>
<text x="2817" y="2448.4">~ OPNAME</text>
<text x="2817" y="2477.16"><tspan>+ And()</tspan><tspan x="2817" dy="18.76">+ getOpSymbol()</tspan><tspan x="2817" dy="18.76">+ toOctave()</tspan></text></g>

<g id="Not"><rect class="box" x="3020" y="2410" width="183" height="105.28"/><path class="sep" d="M3020,2439h183M3020,2467.76h183"/><text class="t" x="3111.5" y="2429">m2m.backend.structure.Not</text>
<text x="3028" y="2457.4">~ OPNAME</text>
<text x="3028" y="2486.16"><tspan>+ Not()</tspan><tspan x="3028" dy="18.76">+ getOpSymbol()</tspan></text></g>

<g id="Or"><rect class="box" x="3227" y="2401" width="177" height="124.04"/><path class="sep" d="M3227,2430h177M3227,2458.76h177"/><text class="t" x="3315.5" y="2420">m2m.backend.structure.Or</text>
<text x="3235" y="2448.4">~ OPNAME</text>
<text x="3235" y="2477.16"><tspan>+ Or()</tspan><tspan x="3235" dy="18.76">+ getOpSymbol()</tspan><tspan x="3235" dy="18.76">+ toOctave()</tspan></text></g>

<g id="connectors" class="edge">
<path d="M496,741 C520,420 900,240 1585,229"/>
<path d="M825,835 C1080,660 1330,440 1585,293"/>
<path d="M2630,535 C2400,420 2060,345 1795,290"/>
<path d="M4722,879 C3800,640 2700,380 1795,243"/>
<path d="M121,1665 C150,1450 350,1360 612,1336"/>
<path d="M380,1599 C392,1520 520,1400 614,1336"/>
<path d="M616,1740 C640,1560 660,1450 665,1336"/>
<path d="M814,1675 C800,1560 780,1450 772,1336"/>
<path d="M1065,1776 C1065,1346 1970,1019 2573,916"/>
<path d="M1313,1776 C1313,1349 2069,1024 2573,922"/>
<path d="M1569,1804 C1569,1366 2171,1034 2573,929"/>
<path d="M1807,1796 C1807,1372 2267,1050 2573,948"/>
<path d="M2037,1776 C2037,1376 2359,1073 2573,977"/>
<path d="M2291,1776 C2291,1405 2460,1124 2573,1035"/>
<path d="M2554,1777 C2575,1600 2610,1400 2628,1278"/>
<path d="M2814,1767 C2790,1600 2755,1400 2740,1278"/>
<path d="M3096,1796 C3096,1415 2914,1126 2793,1035"/>
<path d="M3353,1693 C3353,1335 3017,1063 2793,977"/>
<path d="M3623,1776 C3623,1362 3125,1047 2793,948"/>
<path d="M3877,1776 C3877,1352 3227,1031 2793,929"/>
<path d="M4110,1776 C4110,1348 3320,1024 2793,921"/>
<path d="M4333,1776 C4333,1346 3409,1019 2793,916"/>
<path d="M4566,1776 C4566,1344 3502,1016 2793,912"/>
<path d="M1075,2382 C1200,2200 1545,2150 1551,1909"/>
<path d="M1305,2382 C1350,2250 1552,2150 1558,1909"/>
<path d="M1469,2382 C1480,2250 1565,2150 1565,1909"/>
<path d="M1671,2382 C1660,2250 1573,2150 1572,1909"/>
<path d="M1810,2382 C1760,2250 1580,2150 1579,1909"/>
<path d="M2058,2382 C1950,2200 1590,2150 1586,1909"/>
<path d="M2942,2401 L3092,1920"/>
<path d="M3109,2410 L3109,1920"/>
<path d="M3262,2401 L3126,1920"/>
<path d="M4828,1383 L4828,989"/>
<path d="M5035,1635 C5000,1400 4890,1150 4855,989"/>
</g>
</g>
</svg>
